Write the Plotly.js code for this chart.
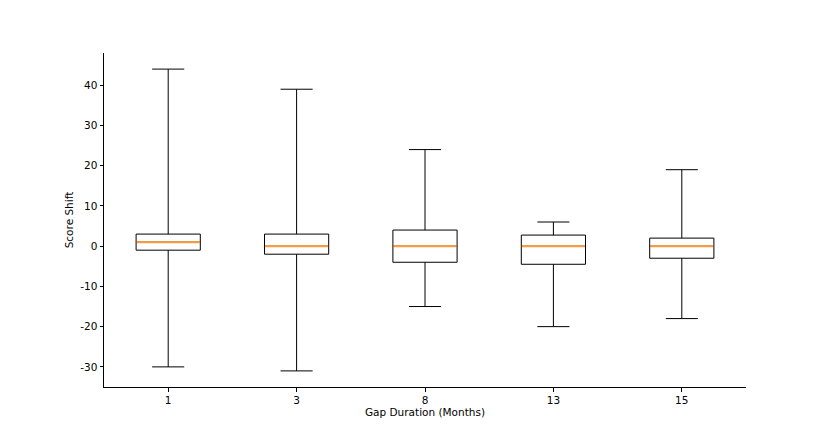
<!DOCTYPE html>
<html>
<head>
<meta charset="utf-8">
<script src="https://cdn.plot.ly/plotly-3.0.1.min.js"></script>
<style>html,body{margin:0;padding:0;background:#fff;}#chart{width:830px;height:443px;}</style>
</head>
<body>
<div id="chart"></div>
<script>
const categories = ["1", "3", "8", "13", "15"];
const minVals = [-30, -31, -15, -20, -18];
const q1Vals = [-1, -2, -4, -4.5, -3];
const medianVals = [1, 0, 0, 0, 0];
const q3Vals = [3, 3, 4, 2.75, 2];
const maxVals = [44, 39, 24, 6, 19];

const positions = categories.map((c, i) => i + 1);
const boxWidth = 0.5;

const boxTrace = {
  type: 'box',
  x: positions,
  q1: q1Vals,
  median: medianVals,
  q3: q3Vals,
  lowerfence: minVals,
  upperfence: maxVals,
  width: boxWidth,
  whiskerwidth: 0.5,
  fillcolor: 'rgba(255,255,255,1)',
  line: {color: '#000000', width: 1},
  boxpoints: false,
  hoverinfo: 'skip',
  showlegend: false
};

const mx = [], my = [];
positions.forEach((p, i) => {
  mx.push(p - boxWidth / 2 + 0.004, p + boxWidth / 2 - 0.004, null);
  my.push(medianVals[i], medianVals[i], null);
});
const medianTrace = {
  type: 'scatter',
  mode: 'lines',
  x: mx,
  y: my,
  line: {color: '#ff9a3c', width: 2},
  hoverinfo: 'skip',
  showlegend: false
};

const layout = {
  width: 830,
  height: 443,
  margin: {l: 104, r: 84, t: 53, b: 56},
  paper_bgcolor: '#ffffff',
  plot_bgcolor: '#ffffff',
  font: {family: 'DejaVu Sans', size: 10.5, color: '#000000'},
  showlegend: false,
  xaxis: {
    range: [0.5, 5.5],
    tickvals: positions,
    ticktext: categories,
    showgrid: false,
    zeroline: false,
    showline: true,
    linecolor: '#000000',
    linewidth: 1,
    ticks: 'outside',
    ticklen: 3.5,
    tickcolor: '#000000',
    title: {text: 'Gap Duration (Months)', font: {size: 10.5}, standoff: 3}
  },
  yaxis: {
    range: [-35, 48],
    tickvals: [-30, -20, -10, 0, 10, 20, 30, 40],
    ticktext: ['-30', '-20', '-10', '0', '10', '20', '30', '40'],
    showgrid: false,
    zeroline: false,
    showline: true,
    linecolor: '#000000',
    linewidth: 1,
    ticks: 'outside',
    ticklen: 3.5,
    tickcolor: '#000000',
    title: {text: 'Score Shift', font: {size: 10.5}, standoff: 4}
  }
};

Plotly.newPlot('chart', [boxTrace, medianTrace], layout, {displayModeBar: false, staticPlot: true});
</script>
</body>
</html>
